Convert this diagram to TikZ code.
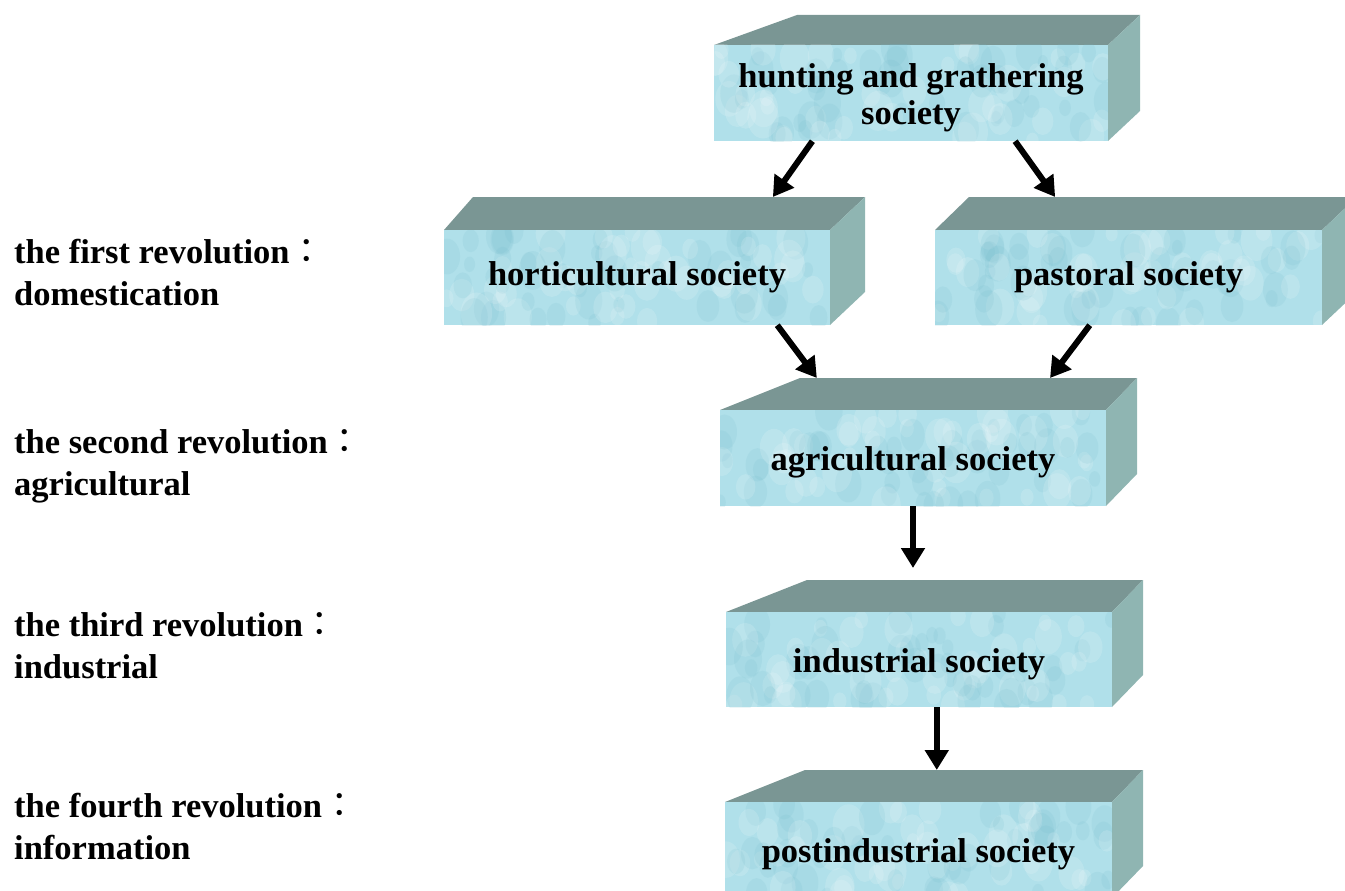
\documentclass[tikz,border=0pt]{standalone}
\usepackage{fontspec}
\setmainfont{Liberation Serif}
\newfontfamily\cjk{Noto Sans CJK TC}
\usetikzlibrary{arrows.meta,calc}
\definecolor{topc}{RGB}{122,150,148}
\definecolor{sidec}{RGB}{143,181,178}
\definecolor{frontc}{RGB}{176,224,234}
\definecolor{spotc}{RGB}{118,188,204}
\tikzset{
  face/.style={inner sep=0pt, align=center, font=\fontsize{34.5}{37}\selectfont\bfseries, text=black},
  frontface/.style={fill=frontc},
  topface/.style={fill=topc},
  sideface/.style={fill=sidec},
  lightspot/.style={fill=white, opacity=0.14},
  darkspot/.style={fill=spotc, opacity=0.15},
  rev/.style={anchor=base west, align=left, inner sep=0pt, font=\fontsize{34.5}{42}\selectfont\bfseries},
  flow/.style={line width=6pt, -{Triangle[length=20pt,width=23pt]}},
}
\newcommand{\cln}{{\cjk\mdseries ：}}
\newcommand{\lift}{\rule{0pt}{32.5pt}}
% #1 name, #2 x left, #3 y top, #4 width, #5 height, #6 left depth dx, #7 right depth dx, #8 depth dy, #9 text
\newcommand{\slab}[9]{%
  \coordinate (#1-bl) at (#2+#6,#3-#8);
  \coordinate (#1-br) at (#2+#4+#7,#3-#8);
  \fill[topface] (#2,#3) -- (#1-bl) -- (#1-br) -- (#2+#4,#3) -- cycle;
  \fill[sideface] (#2+#4,#3) -- (#1-br) -- (#2+#4+#7,#3+#5-#8) -- (#2+#4,#3+#5) -- cycle;
  \fill[frontface] (#2,#3) rectangle ++(#4,#5);
  \begin{scope}
    \clip (#2,#3) rectangle ++(#4,#5);
    \foreach \k in {1,...,45}{
      \pgfmathsetmacro\xx{#2+rnd*#4}
      \pgfmathsetmacro\yy{#3+rnd*#5}
      \pgfmathsetmacro\rr{6+rnd*10}
      \fill[lightspot] (\xx,\yy) ellipse ({\rr} and {\rr*1.3});
      \pgfmathsetmacro\xx{#2+rnd*#4}
      \pgfmathsetmacro\yy{#3+rnd*#5}
      \pgfmathsetmacro\rr{5+rnd*9}
      \fill[darkspot] (\xx,\yy) ellipse ({\rr} and {\rr*1.4});
    }
  \end{scope}
  \node[face, minimum width=#4pt, minimum height=#5pt] (#1) at (#2+#4/2,#3+#5/2) {#9};
}
\begin{document}
\begin{tikzpicture}[x=1pt,y=-1pt]
\pgfmathsetseed{7}
\useasboundingbox (0,0) rectangle (1345,891);
\clip (0,0) rectangle (1345,891);

\slab{hunt}{714}{45}{394}{96}{83}{32}{30}{\lift hunting and grathering\\society}
\slab{hort}{444}{230}{386}{95}{29}{35}{33}{horticultural society}
\slab{past}{935}{230}{387}{95}{34}{35}{33}{pastoral society}
\slab{agri}{720}{410}{386}{96}{80}{31}{32}{\lift agricultural society}
\slab{indu}{726}{612}{386}{95}{81}{31}{32}{\lift industrial society}
\slab{post}{725}{802}{387}{96}{80}{31}{32}{\lift postindustrial society}

\draw[flow] ($(hunt.south west)!0.25!(hunt.south east)$) -- ($(hort-bl)!0.765!(hort-br)$);
\draw[flow] ($(hunt.south west)!0.764!(hunt.south east)$) -- ($(past-bl)!0.222!(past-br)$);
\draw[flow] ($(hort.south west)!0.863!(hort.south east)$) -- ($(agri-bl)!0.05!(agri-br)$);
\draw[flow] ($(past.south west)!0.40!(past.south east)$) -- ($(agri-bl)!0.742!(agri-br)$);
\draw[flow] (agri.south) -- ($(agri.south |- indu-bl)+(0,-12)$);
\coordinate (s6) at ($(indu.south west)!0.546!(indu.south east)$);
\draw[flow] (s6) -- (s6 |- post-bl);

\node[rev] (r1) at (14,305) {the first revolution\cln\\domestication};
\node[rev] (r2) at (14,495) {the second revolution\cln\\agricultural};
\node[rev] (r3) at (14,678) {the third revolution\cln\\industrial};
\node[rev] (r4) at (14,859) {the fourth revolution\cln\\information};
\end{tikzpicture}
\end{document}
